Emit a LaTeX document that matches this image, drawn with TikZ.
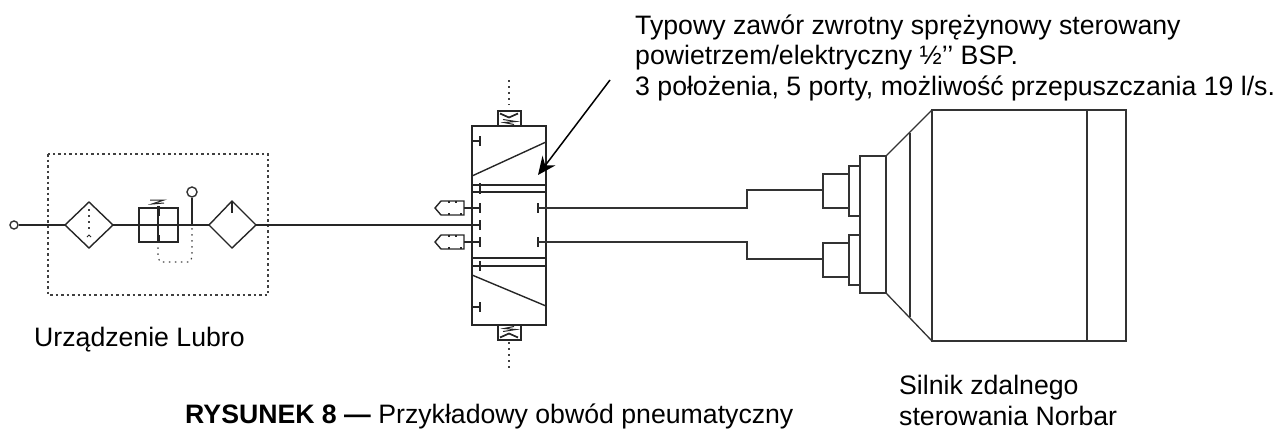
\documentclass[tikz,border=0pt]{standalone}
\usepackage{fontspec}
\setmainfont{Liberation Sans}
\usetikzlibrary{arrows.meta}
\def \lineW {1.4pt}
\def \capSize {26.67pt}
\tikzset{
   pipe/.style={draw=black!85, line width=\lineW},
   thinpipe/.style={draw=black!80, line width=1.3pt},
   pilot/.style={draw=black!75, line width=1.2pt, dash pattern=on 1.5pt off 4.5pt},
   caption/.style={inner sep=0pt, anchor=base west, font=\fontsize{\capSize}{30pt}\selectfont, text=black},
   leader/.style={draw=black, line width=1.5pt, -{Stealth[length=18pt,width=16pt,inset=6pt]}}
}
\newcommand{\stopT}[2]{\draw[pipe] (#1,#2-5) -- (#1,#2+5);}
\newcommand{\silencer}[1]{
   \draw[pipe] (441,#1-7) -- (464,#1-7) -- (464,#1+7) -- (441,#1+7) -- (435,#1) -- cycle;
   \draw[pipe] (449,#1-7) -- (449,#1-5) (456,#1-7) -- (456,#1-5) (449,#1+7) -- (449,#1+5) (461,#1+7) -- (461,#1+5);
   \draw[pipe] (464,#1) -- (480,#1);
   \stopT{480}{#1}
}
\newcommand{\springcap}[3]{
   \draw[pipe] (498,#1-7.5) rectangle (521,#1+7.5);
   \draw[pipe, line width=1.7pt] (500,#1-#2*5) -- (509,#1-#2*1) -- (518,#1-#2*5);
   \draw[pipe, line width=#3] (503,#1+#2*1) -- (516,#1+#2*3) -- (504,#1+#2*4) -- (514,#1+#2*6);
}
\begin{document}
\begin{tikzpicture}[x=1pt,y=-1pt]
   \useasboundingbox (0,0) rectangle (1278,429);

   % lubro unit
   \draw[pilot, dash pattern=on 2.5pt off 3pt] (48,154) rectangle (268,295);
   \node[draw=black!80, circle, line width=\lineW, minimum size=8pt, inner sep=0pt] (inlet) at (14,225) {};
   \coordinate (filterL) at (65,225);
   \coordinate (filterR) at (113,225);
   \coordinate (regL) at (139,225);
   \coordinate (regR) at (178,225);
   \coordinate (teeP) at (192,225);
   \coordinate (lubeL) at (209,225);
   \coordinate (lubeR) at (256,225);
   \coordinate (valveIn) at (480,225);
   \node[draw=black!80, circle, line width=\lineW, minimum size=10pt, inner sep=0pt] (gauge) at (192,192) {};
   \draw[pipe] (inlet) -- (filterL);
   \draw[pipe] (filterL) -- (89,202) -- (filterR) -- (89,248) -- cycle;
   \draw[pilot] (89,209) -- (89,230);
   \draw[pipe, line width=0.8pt] (87,237) -- (89,235) -- (91,237);
   \draw[pipe] (filterR) -- (regL);
   \draw[pipe] (139,208) rectangle (178,242);
   \draw[pipe] (158,207) -- (158,243);
   \draw[pipe, line width=3pt] (158,206) -- (158,216) (158,235) -- (158,243);
   \draw[pipe, line width=1pt] (150,200) -- (164,200) -- (152,204) -- (164,203);
   \draw[pipe] (regL) -- (lubeL);
   \draw[pipe] (teeP) -- (gauge);
   \draw[pilot] (192,228) -- (192,257) -- (190,262) -- (160,262) -- (158,257) -- (158,245);
   \draw[pipe] (lubeL) -- (232,201) -- (lubeR) -- (232,248) -- cycle;
   \draw[pipe] (232,201) -- (232,213);
   \draw[pipe] (lubeR) -- (valveIn);

   % valve
   \draw[pipe] (472,126) rectangle (546,325);
   \draw[pipe] (472,185) -- (546,185) (472,192) -- (546,192);
   \draw[pipe] (472,258) -- (546,258) (472,266) -- (546,266);
   \draw[pipe] (472,176) -- (546,142);
   \draw[pipe] (472,275) -- (546,306);
   \draw[pipe] (472,141) -- (480,141);
   \stopT{480}{141}
   \draw[pipe] (480,183) -- (480,194);
   \draw[pipe] (480,261) -- (480,271);
   \draw[pipe] (472,307) -- (480,307);
   \stopT{480}{307}
   \stopT{480}{225}
   \silencer{208}
   \silencer{242}
   \springcap{118.5}{1}{1pt}
   \springcap{332.5}{-1}{1pt}
   \draw[pilot] (509,80) -- (509,105);
   \draw[pilot] (509,342) -- (509,371);

   % motor
   \stopT{538}{208}
   \stopT{538}{242}
   \draw[thinpipe] (538,208) -- (747,208) -- (747,190) -- (823,190);
   \draw[thinpipe] (538,242) -- (747,242) -- (747,259) -- (823,259);
   \draw[thinpipe] (823,174) rectangle (849,208);
   \draw[thinpipe] (823,243) rectangle (849,277);
   \draw[thinpipe] (849,166) rectangle (860,216);
   \draw[thinpipe] (849,235) rectangle (860,285);
   \draw[thinpipe] (860,156) rectangle (886,293);
   \draw[thinpipe] (886,156) -- (932,110);
   \draw[thinpipe] (886,293) -- (932,341);
   \draw[thinpipe] (910,133) -- (910,317);
   \draw[thinpipe] (932,110) rectangle (1126,341);
   \draw[thinpipe] (1087,110) -- (1087,341);

   % labels
   \coordinate (arrowS) at (610,80);
   \coordinate (arrowE) at (538,175);
   \draw[leader] (arrowS) -- (arrowE);
   \node[caption] (valveA) at (635,34) {Typowy zawór zwrotny sprężynowy sterowany};
   \node[caption] (valveB) at (635,64.5) {powietrzem/elektryczny ½’’ BSP.};
   \node[caption] (valveC) at (635,95) {3 położenia, 5 porty, możliwość przepuszczania 19 l/s.};
   \node[caption] (lubro) at (34,346) {Urządzenie Lubro};
   \node[caption] (motorA) at (899,394) {Silnik zdalnego};
   \node[caption] (motorB) at (899,425) {sterowania Norbar};
   \node[caption] (figcap) at (185,423) {\textbf{RYSUNEK 8 —} Przykładowy obwód pneumatyczny};
\end{tikzpicture}
\end{document}
